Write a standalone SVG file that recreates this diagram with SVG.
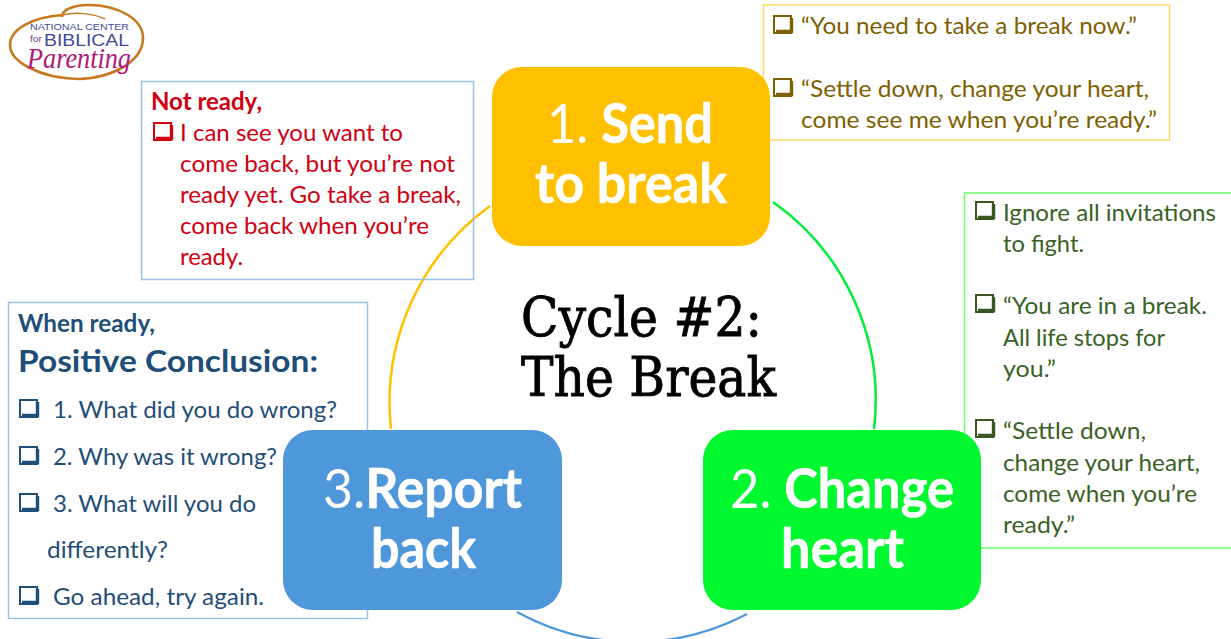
<svg xmlns="http://www.w3.org/2000/svg" xmlns:xlink="http://www.w3.org/1999/xlink" width="1231" height="639" viewBox="0 0 1231 639">
<style>
text{font-family:Lato,"Open Sans",sans-serif}
.box{fill:none;stroke-width:1.5}
.t{font-size:24px}
.b{font-weight:700}
.red{fill:#d00010}.brn{fill:#7f6000}.grn{fill:#386226}.blu{fill:#1f4e79}
.nt{fill:#fff;font-size:55px;font-weight:700;stroke:#fff;stroke-width:.6}
.nr{font-weight:400;stroke-width:0}
.ct{font-family:"DejaVu Serif","Liberation Serif",serif;font-size:54px;fill:#000;stroke:#000;stroke-width:.9}
.arc{fill:none;stroke-width:2.5}
.lg{font-family:"Liberation Sans",sans-serif}
</style>
<defs>
<g id="cb"><rect x="1" y="1" width="17" height="17" fill="#fff" stroke="currentColor" stroke-width="2"/><path d="M3 16.500H18.500V3" fill="none" stroke="currentColor" stroke-width="3.400"/></g>
</defs>
<rect width="1231" height="639" fill="#fff"/>
<g id="connectors">
<path class="arc" stroke="#ffc000" d="M490 206A242.500 242.500 0 0 0 391 429"/>
<path class="arc" stroke="#00ee3a" d="M773 202A242.500 242.500 0 0 1 874 429"/>
<path class="arc" stroke="#4f97db" d="M747 614A242.500 242.500 0 0 1 517 612"/>
</g>
<g id="logo">
<path d="M62 15C35 17 10 28 10 45C10 62 40 78 78 79C115 78 143 60 143 38C143 20 120 5 88 5C75 5 62 9 62 17" fill="none" stroke="#c8791e" stroke-width="2.600"/>
<path d="M62 15C75 12 92 13 105 19" fill="none" stroke="#c8791e" stroke-width="1.500"/>
<text class="lg" x="30" y="30" font-size="8.500" textLength="99" lengthAdjust="spacingAndGlyphs" fill="#3d4b9a">NATIONAL CENTER</text>
<text class="lg" x="30" y="42" font-size="9.500" textLength="12" lengthAdjust="spacingAndGlyphs" fill="#7a3f90">for</text>
<text class="lg" x="44" y="46" font-size="17" textLength="85" lengthAdjust="spacingAndGlyphs" fill="#3d4b9a">BIBLICAL</text>
<text x="27" y="68" font-size="29" font-style="italic" textLength="104" lengthAdjust="spacingAndGlyphs" style="font-family:'Liberation Serif',serif" fill="#b0187a">Parenting</text>
</g>
<g id="callout-not-ready" color="#d00010">
<rect class="box" x="141.500" y="81.500" width="332" height="198" stroke="#9cc3e6"/>
<text class="t b red" x="151" y="110" textLength="111" lengthAdjust="spacingAndGlyphs">Not ready,</text>
<use xlink:href="#cb" href="#cb" x="153" y="122"/>
<text class="t red" x="180" y="141" textLength="223" lengthAdjust="spacingAndGlyphs">I can see you want to</text>
<text class="t red" x="180" y="172" textLength="275" lengthAdjust="spacingAndGlyphs">come back, but you’re not</text>
<text class="t red" x="180" y="203" textLength="281" lengthAdjust="spacingAndGlyphs">ready yet. Go take a break,</text>
<text class="t red" x="180" y="234" textLength="249" lengthAdjust="spacingAndGlyphs">come back when you’re</text>
<text class="t red" x="180" y="265" textLength="63" lengthAdjust="spacingAndGlyphs">ready.</text>
</g>
<g id="callout-send" color="#7f6000">
<rect class="box" x="763.500" y="5" width="406" height="135" stroke="#ffd966"/>
<use xlink:href="#cb" href="#cb" x="773" y="15"/>
<text class="t brn" x="801" y="34" textLength="336" lengthAdjust="spacingAndGlyphs">“You need to take a break now.”</text>
<use xlink:href="#cb" href="#cb" x="773" y="78"/>
<text class="t brn" x="801" y="97" textLength="348" lengthAdjust="spacingAndGlyphs">“Settle down, change your heart,</text>
<text class="t brn" x="801" y="128" textLength="356" lengthAdjust="spacingAndGlyphs">come see me when you’re ready.”</text>
</g>
<g id="callout-change" color="#385723">
<rect class="box" x="964.500" y="193" width="280" height="355" stroke="#66ff66"/>
<use xlink:href="#cb" href="#cb" x="975" y="201"/>
<text class="t grn" x="1003" y="221" textLength="213" lengthAdjust="spacingAndGlyphs">Ignore all invitations</text>
<text class="t grn" x="1003" y="252" textLength="81" lengthAdjust="spacingAndGlyphs">to fight.</text>
<use xlink:href="#cb" href="#cb" x="975" y="294"/>
<text class="t grn" x="1003" y="314" textLength="204" lengthAdjust="spacingAndGlyphs">“You are in a break.</text>
<text class="t grn" x="1003" y="346" textLength="162" lengthAdjust="spacingAndGlyphs">All life stops for</text>
<text class="t grn" x="1003" y="377" textLength="53" lengthAdjust="spacingAndGlyphs">you.”</text>
<use xlink:href="#cb" href="#cb" x="975" y="419"/>
<text class="t grn" x="1003" y="439" textLength="143" lengthAdjust="spacingAndGlyphs">“Settle down,</text>
<text class="t grn" x="1003" y="471" textLength="197" lengthAdjust="spacingAndGlyphs">change your heart,</text>
<text class="t grn" x="1003" y="502" textLength="194" lengthAdjust="spacingAndGlyphs">come when you’re</text>
<text class="t grn" x="1003" y="533" textLength="72" lengthAdjust="spacingAndGlyphs">ready.”</text>
</g>
<g id="callout-report" color="#1f4e79">
<rect class="box" x="8.500" y="302.500" width="359" height="316" stroke="#9cc3e6"/>
<text class="t b blu" x="18" y="332" textLength="137" lengthAdjust="spacingAndGlyphs">When ready,</text>
<text class="b blu" x="18" y="372" font-size="31" textLength="300" lengthAdjust="spacingAndGlyphs">Positive Conclusion:</text>
<use xlink:href="#cb" href="#cb" x="19" y="399"/>
<text class="t blu" x="53" y="418" textLength="284" lengthAdjust="spacingAndGlyphs">1. What did you do wrong?</text>
<use xlink:href="#cb" href="#cb" x="19" y="446"/>
<text class="t blu" x="53" y="465" textLength="224" lengthAdjust="spacingAndGlyphs">2. Why was it wrong?</text>
<use xlink:href="#cb" href="#cb" x="19" y="493"/>
<text class="t blu" x="53" y="512" textLength="203" lengthAdjust="spacingAndGlyphs">3. What will you do</text>
<text class="t blu" x="47" y="558" textLength="121" lengthAdjust="spacingAndGlyphs">differently?</text>
<use xlink:href="#cb" href="#cb" x="19" y="586"/>
<text class="t blu" x="53" y="605" textLength="211" lengthAdjust="spacingAndGlyphs">Go ahead, try again.</text>
</g>
<g id="node-send">
<rect x="492" y="67" width="278" height="179" rx="30" fill="#ffc000"/>
<text class="nt" x="547" y="143" textLength="166" lengthAdjust="spacingAndGlyphs"><tspan class="nr">1. </tspan>Send</text>
<text class="nt" x="535" y="203" textLength="192" lengthAdjust="spacingAndGlyphs">to break</text>
</g>
<g id="node-change">
<rect x="703" y="430" width="278" height="180" rx="30" fill="#00f82e"/>
<text class="nt" x="730" y="508" textLength="224" lengthAdjust="spacingAndGlyphs"><tspan class="nr">2. </tspan>Change</text>
<text class="nt" x="781" y="568" textLength="123" lengthAdjust="spacingAndGlyphs">heart</text>
</g>
<g id="node-report">
<rect x="283" y="430" width="279" height="180" rx="30" fill="#4f97db"/>
<text class="nt" x="323" y="508" textLength="199" lengthAdjust="spacingAndGlyphs"><tspan class="nr">3.</tspan>Report</text>
<text class="nt" x="371" y="568" textLength="105" lengthAdjust="spacingAndGlyphs">back</text>
</g>
<g id="center-title">
<text class="ct" x="521" y="336" textLength="241" lengthAdjust="spacingAndGlyphs">Cycle #2:</text>
<text class="ct" x="521" y="396" textLength="255" lengthAdjust="spacingAndGlyphs">The Break</text>
</g>
</svg>
